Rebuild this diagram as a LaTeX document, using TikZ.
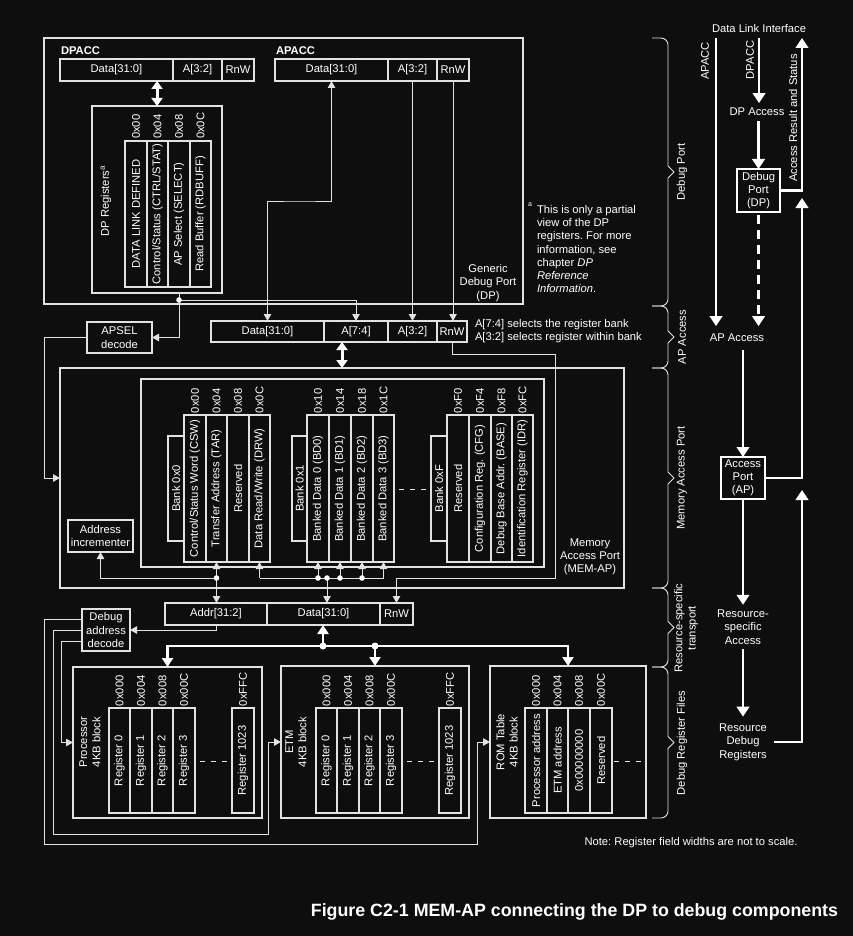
\documentclass[tikz,border=0pt]{standalone}
\usepackage{fontspec}
\setmainfont{Liberation Sans}
\usetikzlibrary{arrows.meta}
\frenchspacing
\definecolor{bgc}{RGB}{14,14,14}
\definecolor{lnc}{RGB}{226,226,226}
\newcommand\mkbox[7]{%
  \pgfmathsetmacro\rbcx{(#2+#4)/2}%
  \pgfmathsetmacro\rbcy{(#3+#5)/2}%
  \pgfmathsetmacro\rbw{#4-#2}%
  \pgfmathsetmacro\rbh{#5-#3}%
  \node[#6, minimum width=\rbw pt, minimum height=\rbh pt] (#1) at (\rbcx,\rbcy) {#7};}
\newcommand\vcell[6]{\mkbox{#1}{#2}{#3}{#4}{#5}{cell}{\rotatebox{90}{#6}}}
\newcommand\brc[2]{%
  \pgfmathsetmacro\bmid{(#1+#2)/2}%
  \draw[conn, line width=0.9pt] (652,#1) -- (661,#1) to[out=0,in=90] (668,#1+7) -- (668,\bmid-6) -- (674,\bmid) -- (668,\bmid+6) -- (668,#2-7) to[out=-90,in=0] (661,#2) -- (652,#2);}
\begin{document}
\frenchspacing
\begin{tikzpicture}[x=1pt,y=-1pt,line join=miter,
  every node/.style={text=white, font=\fontsize{11.2}{13.3}\selectfont, inner sep=0pt, outer sep=0pt},
  box/.style={draw=lnc, line width=1.3pt},
  cell/.style={draw=lnc, line width=1.1pt},
  conn/.style={draw=lnc, line width=1pt},
  arr/.style={conn, -{Triangle[length=7pt,width=7.5pt]}},
  arrtwo/.style={conn, {Triangle[length=7pt,width=7.5pt]}-{Triangle[length=7pt,width=7.5pt]}},
  dbl/.style={draw=white, line width=3pt, {Triangle[length=8pt,width=11pt]}-{Triangle[length=8pt,width=11pt]}},
  bus/.style={draw=white, line width=2.6pt, -{Triangle[length=9pt,width=11pt]}},
  fat/.style={draw=white, line width=2.8pt, -{Triangle[length=10pt,width=12.5pt]}},
  flow/.style={align=center, outer sep=5pt},
  addr/.style={anchor=south, inner sep=2pt},
  boldlbl/.style={font=\fontsize{11.2}{13.3}\selectfont\bfseries, anchor=west},
  dashes/.style={conn, dash pattern=on 5pt off 6pt},
  dot/.style={fill=white}
]
\fill[bgc] (0,0) rectangle (853,936);
\useasboundingbox (0,0) rectangle (853,936);

% ---------------- Debug Port ----------------
\mkbox{dpbox}{44}{38}{523}{304}{box}{}
\node[boldlbl] at (61,51) {DPACC};
\mkbox{dd}{60}{59}{173}{81}{cell}{Data[31:0]}
\mkbox{da}{173}{59}{222}{81}{cell}{A[3:2]}
\mkbox{dr}{222}{59}{254}{81}{cell}{RnW}
\mkbox{dpreg}{92}{106}{222}{293}{box}{}
\vcell{r0}{125}{141}{147}{287}{DATA LINK DEFINED}
\vcell{r1}{147}{141}{168}{287}{Control/Status (CTRL/STAT)}
\vcell{r2}{168}{141}{190}{287}{AP Select (SELECT)}
\vcell{r3}{190}{141}{211}{287}{Read Buffer (RDBUFF)}
\foreach \n/\t in {r0/0x00,r1/0x04,r2/0x08,r3/0x0C}
  \node[addr] at (\n.north) {\rotatebox{90}{\t}};
\node[rotate=90] at (106,201) {DP Registers\textsuperscript{a}};

\node[boldlbl] at (276,51) {APACC};
\mkbox{ad}{275}{59}{388}{81}{cell}{Data[31:0]}
\mkbox{aa}{388}{59}{437}{81}{cell}{A[3:2]}
\mkbox{ar}{437}{59}{469}{81}{cell}{RnW}
\node[align=center] at (488,283) {Generic\\Debug Port\\(DP)};

\node[font=\fontsize{7}{8}\selectfont] at (530,205) {a};
\node[anchor=north west, align=left] at (537,205) {This is only a partial\\view of the DP\\registers. For more\\information, see\\chapter \textit{DP}\\\textit{Reference}\\\textit{Information}.};

% ---------------- AP access bar ----------------
\mkbox{pd}{211}{321}{324}{342}{cell}{Data[31:0]}
\mkbox{pa7}{324}{321}{388}{342}{cell}{A[7:4]}
\mkbox{pa}{388}{321}{437}{342}{cell}{A[3:2]}
\mkbox{pr}{437}{321}{467}{342}{cell}{RnW}
\node[anchor=west] at (475,325) {A[7:4] selects the register bank};
\node[anchor=west] at (475,338) {A[3:2] selects register within bank};
\mkbox{apsel}{87}{322}{152}{353}{box,align=center}{APSEL\\decode}

% ---------------- MEM-AP ----------------
\mkbox{memap}{60}{368}{624}{588}{box}{}
\mkbox{inner}{141}{379}{544}{567}{box}{}
\vcell{b0}{168}{436}{184}{541}{Bank 0x0}
\vcell{c00}{184}{415}{206}{562}{Control/Status Word (CSW)}
\vcell{c04}{206}{415}{227}{562}{Transfer Address (TAR)}
\vcell{c08}{227}{415}{249}{562}{Reserved}
\vcell{c0c}{249}{415}{270}{562}{Data Read/Write (DRW)}
\vcell{b1}{292}{436}{307}{541}{Bank 0x1}
\vcell{c10}{307}{415}{329}{562}{Banked Data 0 (BD0)}
\vcell{c14}{329}{415}{351}{562}{Banked Data 1 (BD1)}
\vcell{c18}{351}{415}{373}{562}{Banked Data 2 (BD2)}
\vcell{c1c}{373}{415}{394}{562}{Banked Data 3 (BD3)}
\vcell{bf}{431}{436}{447}{541}{Bank 0xF}
\vcell{cf0}{447}{415}{469}{562}{Reserved}
\vcell{cf4}{469}{415}{491}{562}{Configuration Reg. (CFG)}
\vcell{cf8}{491}{415}{512}{562}{Debug Base Addr. (BASE)}
\vcell{cfc}{512}{415}{533}{562}{Identification Register (IDR)}
\foreach \n/\t in {c00/0x00,c04/0x04,c08/0x08,c0c/0x0C,c10/0x10,c14/0x14,c18/0x18,c1c/0x1C,cf0/0xF0,cf4/0xF4,cf8/0xF8,cfc/0xFC}
  \node[addr] at (\n.north) {\rotatebox{90}{\t}};
\draw[dashes] (c1c.east |- 0,489) ++(5,0) -- (bf.west |- 0,489);
\node[align=center] at (590,557) {Memory\\Access Port\\(MEM-AP)};
\mkbox{inc}{68}{520}{133}{552}{box,align=center}{Address\\incrementer}

% ---------------- bottom bar ----------------
\mkbox{ba}{165}{603}{267}{625}{cell}{Addr[31:2]}
\mkbox{bd}{267}{603}{380}{625}{cell}{Data[31:0]}
\mkbox{br}{380}{603}{413}{625}{cell}{RnW}
\mkbox{dad}{82}{609}{130}{651}{box,align=center}{Debug\\address\\decode}

% ---------------- register files ----------------
\mkbox{proc}{73}{667}{262}{818}{box}{}
\vcell{p0}{109}{708}{130}{813}{Register 0}
\vcell{p1}{130}{708}{152}{813}{Register 1}
\vcell{p2}{152}{708}{173}{813}{Register 2}
\vcell{p3}{173}{708}{195}{813}{Register 3}
\vcell{p4}{232}{708}{254}{813}{Register 1023}
\node[rotate=90, align=center] at (90,742) {Processor\\4KB block};
\draw[dashes] (200,761) -- (227,761);

\mkbox{etm}{281}{666}{469}{818}{box}{}
\vcell{e0}{316}{708}{337}{813}{Register 0}
\vcell{e1}{337}{708}{359}{813}{Register 1}
\vcell{e2}{359}{708}{380}{813}{Register 2}
\vcell{e3}{380}{708}{402}{813}{Register 3}
\vcell{e4}{439}{708}{461}{813}{Register 1023}
\node[rotate=90, align=center] at (296,742) {ETM\\4KB block};
\draw[dashes] (407,761) -- (434,761);

\mkbox{rom}{490}{666}{646}{818}{box}{}
\vcell{m0}{525}{708}{547}{813}{Processor address}
\vcell{m1}{547}{708}{568}{813}{ETM address}
\vcell{m2}{568}{708}{590}{813}{0x00000000}
\vcell{m3}{590}{708}{612}{813}{Reserved}
\node[rotate=90, align=center] at (507,742) {ROM Table\\4KB block};
\draw[dashes] (614,761) -- (642,761);

\foreach \n/\t in {p0/0x000,p1/0x004,p2/0x008,p3/0x00C,p4/0xFFC,e0/0x000,e1/0x004,e2/0x008,e3/0x00C,e4/0xFFC,m0/0x000,m1/0x004,m2/0x008,m3/0x00C}
  \node[addr] at (\n.north) {\rotatebox{90}{\t}};

% ---------------- connectors ----------------
\draw[dbl] (dd.south -| dpreg.north) -- (dpreg.north);
\coordinate (j1) at (300,201);
\draw[arrtwo] (ad.south) |- (j1) -| (pd.north);
\draw[arr] (aa.south) -- (aa.south |- pa.north);
\draw[arr] (ar.south) -- (ar.south |- pr.north);
\coordinate (seldot) at (179,300);
\draw[conn] (r2.south |- dpreg.south) -- (seldot);
\draw[arr] (seldot) -| (pa7.north);
\draw[arr] (seldot) |- (apsel.east);
\fill[dot] (seldot) circle (2.8pt);
\draw[arr] (apsel.west) -- ++(-43,0) |- (memap.west);
\draw[dbl] (memap.north |- pd.south) -- (memap.north);
\coordinate (rw1) at (555,354);
\coordinate (rw2) at (555,578);
\draw[arr] (pr.south) |- (rw1) -- (rw2) -| (br.north);

\coordinate (tdot) at (216.5,578);
\draw[arrtwo] (c04.south) -- (c04.south |- ba.north);
\draw[arr] (tdot) -| (inc.south);
\fill[dot] (tdot) circle (2.8pt);
\draw[conn] (c0c.south |- tdot) -- (c1c.south |- tdot);
\foreach \c in {c0c,c10,c14,c18,c1c}
  \draw[arr] (\c.south |- tdot) -- (\c.south);
\coordinate (ddot) at (327,578);
\draw[arr] (ddot) -- (ddot |- bd.north);
\foreach \c in {c10,c14,c18}
  \fill[dot] (\c.south |- tdot) circle (2.8pt);
\fill[dot] (ddot) circle (2.8pt);

\draw[arr] (ba.south) |- (dad.east);
\coordinate (bdot) at (323,646);
\coordinate (edot) at (etm.north |- bdot);
\draw[bus] (bdot) -- (bdot |- bd.south);
\draw[bus] (bdot) -| (proc.north);
\draw[bus] (bdot) -| (rom.north);
\draw[bus] (edot) -- (etm.north);
\fill[dot] (bdot) circle (3.5pt);
\fill[dot] (edot) circle (3.5pt);

\coordinate (k2) at (477,844);
\coordinate (k4) at (268,834);
\draw[arr] ([yshift=11pt]dad.west) -- ++(-38,0) |- (k2) |- (rom.west);
\draw[arr] (dad.west) -- ++(-29,0) |- (k4) |- (etm.west);
\draw[arr] ([yshift=-11pt]dad.west) -- ++(-21,0) |- (proc.west);

% ---------------- right column ----------------
\node (dli) at (759,28) {Data Link Interface};
\coordinate (aA) at (716,38);
\coordinate (aD) at (759,38);
\coordinate (aR) at (802,38);
\node[flow] (dpa) at (757,112) {DP Access};
\mkbox{dpp}{737}{169}{780}{212}{draw=white, line width=1.1pt, align=center}{Debug\\Port\\(DP)}
\node[flow, outer sep=8pt] (apa) at (737,338) {AP Access};
\mkbox{app}{721}{457}{765}{499}{draw=white, line width=1.1pt, align=center}{Access\\Port\\(AP)}
\node[flow] (rsa) at (743,627) {Resource-\\specific\\Access};
\node[flow, outer sep=7pt] (rdr) at (743,742) {Resource\\Debug\\Registers};
\coordinate (aR2) at (802,198);
\coordinate (aR3) at (802,490);

\draw[fat] (aA) -- (aA |- apa.north);
\draw[fat] (aD) -- (aD |- dpa.north);
\draw[fat] (dpa.south -| dpp.north) -- (dpp.north);
\draw[fat, dash pattern=on 9pt off 6pt] ([yshift=-3pt]dpp.south) -- (dpp.south |- apa.north);
\draw[fat] (dpp.east) -| (aR);
\draw[fat] (app.east) -| (aR2);
\draw[fat] (rdr.east) -| (aR3);
\draw[fat] (apa.south -| app.north) -- (app.north);
\draw[fat] (app.south) -- (rsa.north);
\draw[fat] (rsa.south) -- (rdr.north);
\node[rotate=90] at (705,61) {APACC};
\node[rotate=90] at (750,60) {DPACC};
\node[rotate=90] at (793,118) {Access Result and Status};

% ---------------- braces ----------------
\brc{38}{306}
\brc{306}{368}
\brc{368}{588}
\brc{588}{667}
\brc{667}{818}
\node[rotate=90] at (682,172) {Debug Port};
\node[rotate=90] at (682,337) {AP Access};
\node[rotate=90] at (682,478) {Memory Access Port};
\node[rotate=90, align=center] at (686,628) {Resource-specific\\transport};
\node[rotate=90] at (682,743) {Debug Register Files};

\node at (691,843) {Note: Register field widths are not to scale.};
\node[anchor=east, font=\fontsize{17.8}{20}\selectfont\bfseries] at (838,912) {Figure C2-1 MEM-AP connecting the DP to debug components};
\end{tikzpicture}
\end{document}
